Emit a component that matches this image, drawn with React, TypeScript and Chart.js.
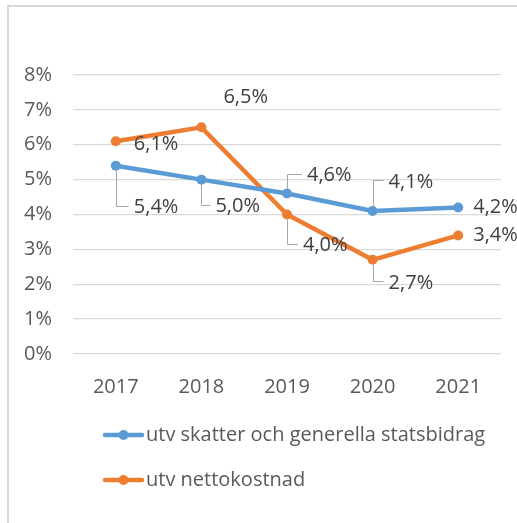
import React, { useEffect, useRef } from "react";
import { Chart, registerables } from "chart.js";

Chart.register(...registerables);

const years = ["2017", "2018", "2019", "2020", "2021"];
const skatter = [5.4, 5.0, 4.6, 4.1, 4.2];
const netto = [6.1, 6.5, 4.0, 2.7, 3.4];
const seriesNames = ["utv skatter och generella statsbidrag", "utv nettokostnad"];
const yMin = 0;
const yMax = 8;

const BLUE = "#5B9BD5";
const ORANGE = "#ED7D31";
const FONT = "'Open Sans', 'Noto Sans', sans-serif";

// label placement style (offset of label text from its point, and whether a leader line is drawn)
const labelStyle = [
  [
    { dx: 18, dy: 42, leader: true },
    { dx: 14, dy: 27, leader: true },
    { dx: 20, dy: -18, leader: true },
    { dx: 16, dy: -29, leader: true },
    { dx: 15, dy: 0, leader: false },
  ],
  [
    { dx: 18, dy: 3, leader: false },
    { dx: 22, dy: -30, leader: false },
    { dx: 16, dy: 31, leader: true },
    { dx: 16, dy: 23, leader: true },
    { dx: 15, dy: 0, leader: false },
  ],
];

const fmt = (v: number) => v.toFixed(1).replace(".", ",") + "%";

const labelPlugin = {
  id: "excelLabels",
  afterDatasetsDraw(chart: any) {
    const ctx = chart.ctx;
    ctx.save();
    ctx.font = `20px ${FONT}`;
    ctx.textBaseline = "middle";
    ctx.textAlign = "left";
    chart.data.datasets.forEach((ds: any, i: number) => {
      const meta = chart.getDatasetMeta(i);
      meta.data.forEach((pt: any, j: number) => {
        const st = labelStyle[i][j];
        const tx = pt.x + st.dx;
        const ty = pt.y + st.dy;
        if (st.leader) {
          const ly = ty + (st.dy > 0 ? -2 : -2);
          ctx.strokeStyle = "#a6a6a6";
          ctx.lineWidth = 1;
          ctx.beginPath();
          const sy = pt.y + (st.dy > 0 ? 5 : -5);
          ctx.moveTo(Math.round(pt.x) + 0.5, sy);
          ctx.lineTo(Math.round(pt.x) + 0.5, Math.round(ly) + 0.5);
          ctx.lineTo(tx - 5, Math.round(ly) + 0.5);
          ctx.stroke();
        }
        ctx.fillStyle = "#404040";
        ctx.fillText(fmt(ds.data[j]), tx, ty);
      });
    });
    ctx.restore();
  },
};

const legendPlugin = {
  id: "stackLegend",
  afterDraw(chart: any) {
    const ctx = chart.ctx;
    ctx.save();
    const rows = [435, 480];
    chart.data.datasets.forEach((ds: any, i: number) => {
      const y = rows[i];
      ctx.strokeStyle = ds.borderColor;
      ctx.lineWidth = 4.5;
      ctx.lineCap = "round";
      ctx.beginPath();
      ctx.moveTo(105, y);
      ctx.lineTo(142, y);
      ctx.stroke();
      ctx.fillStyle = ds.borderColor;
      ctx.beginPath();
      ctx.arc(123.5, y, 5, 0, Math.PI * 2);
      ctx.fill();
      ctx.fillStyle = "#595959";
      ctx.font = `20px ${FONT}`;
      ctx.textBaseline = "middle";
      ctx.textAlign = "left";
      ctx.fillText(ds.label, 146, y);
    });
    ctx.restore();
  },
};

export default function App() {
  const ref = useRef<HTMLCanvasElement | null>(null);
  useEffect(() => {
    if (!ref.current) return;
    const chart = new Chart(ref.current, {
      type: "line",
      data: {
        labels: years,
        datasets: [
          {
            label: seriesNames[0],
            data: skatter,
            borderColor: BLUE,
            backgroundColor: BLUE,
            pointBackgroundColor: BLUE,
            pointBorderColor: BLUE,
            borderWidth: 4.5,
            pointRadius: 5,
            pointBorderWidth: 0,
            tension: 0,
          },
          {
            label: seriesNames[1],
            data: netto,
            borderColor: ORANGE,
            backgroundColor: ORANGE,
            pointBackgroundColor: ORANGE,
            pointBorderColor: ORANGE,
            borderWidth: 4.5,
            pointRadius: 5,
            pointBorderWidth: 0,
            tension: 0,
          },
        ],
      },
      options: {
        responsive: false,
        animation: false,
        layout: { padding: { left: 0, right: 16, top: 75, bottom: 0 } },
        plugins: { legend: { display: false }, tooltip: { enabled: false } },
        scales: {
          x: {
            offset: true,
            grid: { display: false, drawTicks: false },
            border: { display: false },
            ticks: { color: "#595959", font: { family: FONT, size: 20 }, padding: 21 },
            afterFit: (s: any) => {
              s.height = 169;
            },
          },
          y: {
            min: yMin,
            max: yMax,
            ticks: {
              stepSize: 1,
              color: "#595959",
              font: { family: FONT, size: 20 },
              padding: 21,
              callback: (v: any) => v + "%",
            },
            grid: { color: "#d9d9d9", lineWidth: 1.3, drawTicks: false },
            border: { display: false },
            afterFit: (s: any) => {
              s.width = 73;
            },
          },
        },
      },
      plugins: [labelPlugin, legendPlugin],
    });
    return () => chart.destroy();
  }, []);

  return (
    <div style={{ position: "fixed", left: 0, top: 0, width: 517, height: 523, background: "#fff" }}>
      <div
        style={{
          position: "absolute",
          left: 7,
          top: 5,
          right: 0,
          bottom: 0,
          borderLeft: "2px solid #d9d9d9",
          borderTop: "2px solid #d9d9d9",
        }}
      />
      <canvas ref={ref} width={517} height={523} style={{ position: "absolute", left: 0, top: 0, width: 517, height: 523 }} />
    </div>
  );
}
